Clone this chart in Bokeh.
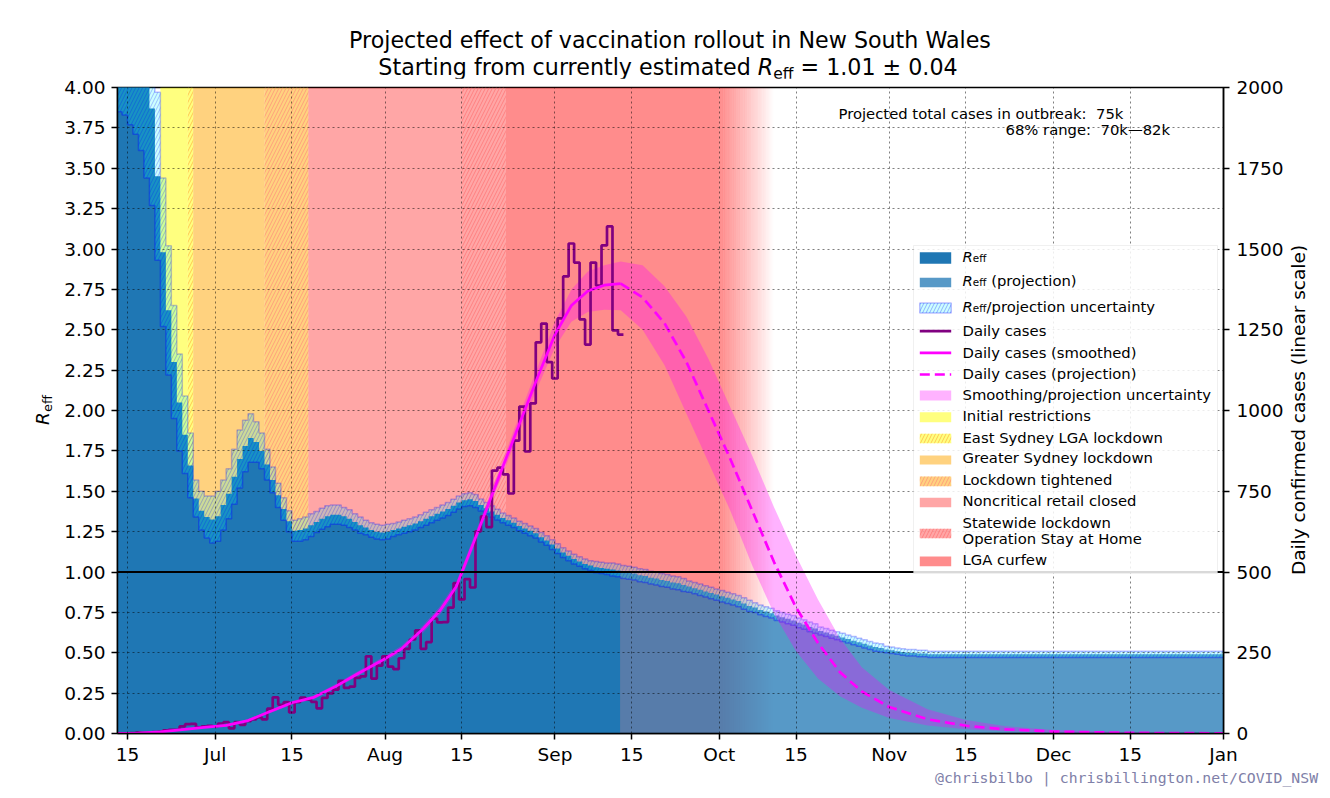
import numpy as np
import pandas as pd
from bokeh.plotting import figure
from bokeh.layouts import column, row
from bokeh.models import (Range1d, LinearAxis, FixedTicker, Label, BoxAnnotation, Span,
                          NumeralTickFormatter, Div)
from bokeh.core.properties import value
from bokeh.embed import file_html
from bokeh.resources import INLINE

ORIGIN = pd.Timestamp("2021-07-01")


def day(d):
    return float((pd.Timestamp(d) - ORIGIN).days)


# ------------------------------------------------------------------ data
x_tick_dates = ["2021-06-15", "2021-07-01", "2021-07-15", "2021-08-01", "2021-08-15",
                "2021-09-01", "2021-09-15", "2021-10-01", "2021-10-15", "2021-11-01",
                "2021-11-15", "2021-12-01", "2021-12-15", "2022-01-01"]
x_tick_labels = ["15", "Jul", "15", "Aug", "15", "Sep", "15", "Oct", "15", "Nov",
                 "15", "Dec", "15", "Jan"]
reff_ticks = [0.0, 0.25, 0.5, 0.75, 1.0, 1.25, 1.5, 1.75, 2.0, 2.25, 2.5, 2.75,
              3.0, 3.25, 3.5, 3.75, 4.0]
cases_ticks = [0, 250, 500, 750, 1000, 1250, 1500, 1750, 2000]

# Reff estimate, one value per day starting 2021-06-13
reff_start = "2021-06-13"
reff = [4.35, 4.32, 4.28, 4.22, 4.15, 4.02, 3.87, 3.45, 2.98, 2.62, 2.30, 2.05, 1.85, 1.66,
        1.455, 1.38, 1.34, 1.325,
        1.345, 1.415, 1.485, 1.59, 1.70, 1.78, 1.83, 1.805, 1.75, 1.665,
        1.57, 1.475, 1.39, 1.315, 1.255, 1.26, 1.27, 1.29, 1.31, 1.33,
        1.345, 1.355, 1.355, 1.345, 1.33, 1.31, 1.29, 1.275, 1.26, 1.25, 1.245,
        1.25, 1.26, 1.27, 1.28, 1.29, 1.30, 1.315, 1.33, 1.345, 1.36,
        1.375, 1.39, 1.41, 1.43, 1.445, 1.45, 1.44, 1.415, 1.395, 1.375,
        1.355, 1.335, 1.32, 1.305, 1.285, 1.27, 1.255, 1.24, 1.215, 1.195, 1.17,
        1.145, 1.12, 1.10, 1.08, 1.065, 1.05, 1.04, 1.03, 1.025, 1.02, 1.015, 1.01]
reff_unc = [0.50, 0.49, 0.51, 0.51, 0.54, 0.58, 0.60, 0.52, 0.46, 0.40, 0.35, 0.30, 0.24, 0.20,
            0.115, 0.12, 0.13, 0.145,
            0.155, 0.155, 0.155, 0.17, 0.18, 0.16, 0.15, 0.125, 0.11, 0.095,
            0.08, 0.075, 0.07, 0.065, 0.065, 0.07, 0.07, 0.07, 0.065, 0.065,
            0.065, 0.06, 0.06, 0.055, 0.055, 0.05, 0.05, 0.045, 0.045, 0.045, 0.045,
            0.045, 0.04, 0.04, 0.04, 0.04, 0.04, 0.04, 0.04, 0.04, 0.04,
            0.04, 0.04, 0.04, 0.04, 0.04, 0.04, 0.04, 0.037, 0.035, 0.035,
            0.033, 0.03, 0.03, 0.03, 0.03, 0.03, 0.03, 0.03, 0.03, 0.03, 0.03,
            0.03, 0.03, 0.03, 0.03, 0.03, 0.03, 0.03, 0.035, 0.035, 0.035, 0.04, 0.04]

# Reff projection, one value per day starting 2021-09-13
proj_start = "2021-09-13"
reff_proj = [1.00, 0.995, 0.99, 0.98, 0.975, 0.965,
             0.96, 0.95, 0.945, 0.935, 0.93, 0.92,
             0.91, 0.90, 0.89, 0.88, 0.87, 0.86,
             0.85, 0.84, 0.83, 0.82, 0.805, 0.79,
             0.78, 0.765, 0.755, 0.745, 0.73, 0.72,
             0.71, 0.70, 0.685, 0.675, 0.66, 0.65,
             0.635, 0.625, 0.615, 0.605, 0.595, 0.585,
             0.575, 0.565, 0.555, 0.545, 0.535, 0.53,
             0.52, 0.515, 0.51, 0.505, 0.50, 0.50,
             0.495, 0.495, 0.49, 0.49, 0.49, 0.49,
             0.49, 0.49, 0.49, 0.49, 0.49, 0.49, 0.49, 0.49, 0.49, 0.49,
             0.49, 0.49, 0.49, 0.49, 0.49, 0.49, 0.49, 0.49, 0.49, 0.49,
             0.49, 0.49, 0.49, 0.49, 0.49, 0.49, 0.49, 0.49, 0.49, 0.49,
             0.49, 0.49, 0.49, 0.49, 0.49, 0.49, 0.49, 0.49, 0.49, 0.49,
             0.49, 0.49, 0.49, 0.49, 0.49, 0.49, 0.49, 0.49, 0.49, 0.49]
reff_proj_unc = [0.04, 0.04, 0.04, 0.04, 0.04, 0.04,
                 0.04, 0.04, 0.04, 0.04, 0.04, 0.04,
                 0.035, 0.035, 0.035, 0.035, 0.035, 0.035,
                 0.035, 0.035, 0.035, 0.035, 0.035, 0.035,
                 0.03, 0.03, 0.03, 0.03, 0.03, 0.03,
                 0.03, 0.03, 0.03, 0.03, 0.03, 0.03,
                 0.025, 0.025, 0.025, 0.025, 0.025, 0.025,
                 0.025, 0.025, 0.025, 0.025, 0.025, 0.025,
                 0.02, 0.02, 0.02, 0.02, 0.02, 0.02,
                 0.02, 0.02, 0.02, 0.02, 0.02, 0.02,
                 0.02, 0.02, 0.02, 0.02, 0.02, 0.02, 0.02, 0.02, 0.02, 0.02,
                 0.02, 0.02, 0.02, 0.02, 0.02, 0.02, 0.02, 0.02, 0.02, 0.02,
                 0.02, 0.02, 0.02, 0.02, 0.02, 0.02, 0.02, 0.02, 0.02, 0.02,
                 0.02, 0.02, 0.02, 0.02, 0.02, 0.02, 0.02, 0.02, 0.02, 0.02,
                 0.02, 0.02, 0.02, 0.02, 0.02, 0.02, 0.02, 0.02, 0.02, 0.02]

# daily confirmed cases, one value per day starting 2021-06-13
cases_start = "2021-06-13"
cases = [0, 0, 0, 1, 3, 2, 3, 4, 5, 10, 11, 11, 22, 29, 30, 19, 22, 24,
         22, 31, 35, 16, 35, 27, 38, 44, 50, 44, 77, 112, 89, 97, 65, 97, 111, 105,
         98, 78, 110, 124, 136, 163, 141, 145, 172, 177, 239, 170, 210,
         239, 207, 199, 233, 262, 291, 319, 262, 283, 356, 344, 345, 390, 466, 415,
         478, 452, 626, 672, 639, 814, 823, 802, 743, 907, 1012, 873, 1022, 1211, 1269, 1150,
         1099, 1285, 1415, 1517, 1458, 1282, 1204, 1458, 1387, 1511, 1570, 1248, 1235]

# smoothed daily cases
smooth_dates = ["2021-06-13", "2021-06-17", "2021-06-21", "2021-06-25", "2021-06-29",
                "2021-07-03", "2021-07-07", "2021-07-11", "2021-07-15", "2021-07-19",
                "2021-07-23", "2021-07-27", "2021-07-31", "2021-08-04", "2021-08-08",
                "2021-08-11", "2021-08-14", "2021-08-17", "2021-08-20", "2021-08-23",
                "2021-08-26", "2021-08-29", "2021-09-01", "2021-09-04", "2021-09-07",
                "2021-09-10", "2021-09-13"]
smooth = [0.5, 1.5, 5, 12, 19, 25, 40, 68, 95, 112, 146, 185, 222, 262, 325,
          380, 455, 584, 716, 848, 980, 1110, 1235, 1325, 1370, 1388, 1393]
smooth_lo = [0.3, 1, 4, 10, 17, 22, 36, 63, 89, 106, 139, 177, 213, 252, 313,
             367, 440, 567, 697, 826, 953, 1078, 1195, 1275, 1305, 1312, 1310]
smooth_hi = [0.8, 2.2, 6, 14, 21, 28, 44, 73, 101, 118, 153, 193, 231, 272, 337,
             393, 470, 601, 735, 870, 1007, 1142, 1275, 1375, 1430, 1450, 1461]

# projected daily cases
proj_dates = ["2021-09-13", "2021-09-17", "2021-09-21", "2021-09-25", "2021-09-29",
              "2021-10-03", "2021-10-07", "2021-10-11", "2021-10-15", "2021-10-19",
              "2021-10-23", "2021-10-27", "2021-11-01", "2021-11-08", "2021-11-15",
              "2021-11-22", "2021-12-01", "2021-12-15", "2022-01-01"]
proj = [1393, 1350, 1270, 1150, 1000, 850, 690, 530, 390, 280, 190, 130, 82, 44, 24, 13, 6, 2, 0.5]
proj_lo = [1310, 1250, 1140, 990, 840, 690, 520, 370, 255, 170, 115, 80, 48, 25, 13, 7, 3, 1, 0.2]
proj_hi = [1461, 1450, 1385, 1290, 1160, 1010, 860, 700, 550, 415, 295, 205, 135, 75, 42, 23, 11, 4, 1]

# restriction periods
region_labels = ["Initial restrictions", "East Sydney LGA lockdown", "Greater Sydney lockdown",
                 "Lockdown tightened", "Noncritical retail closed",
                 "Statewide lockdown\nOperation Stay at Home", "LGA curfew"]
region_starts = ["2021-06-21", "2021-06-26", "2021-06-27", "2021-07-10", "2021-07-18",
                 "2021-08-15", "2021-08-23"]
region_ends = ["2021-06-26", "2021-06-27", "2021-07-10", "2021-07-18", "2021-08-15",
               "2021-08-23", "2021-10-01"]
curfew_fade_days = 10

title_line1 = "Projected effect of vaccination rollout in New South Wales"
title_line2 = "Starting from currently estimated"
reff_now = "= 1.01 \u00b1 0.04"
total_line1 = "Projected total cases in outbreak: \u00a075k"
total_line2 = "68% range: \u00a070k\u201482k"
right_label = "Daily confirmed cases (linear scale)"
credit = "@chrisbilbo | chrisbillington.net/COVID_NSW"

# ------------------------------------------------------------------ styles
region_fill = ["yellow", "yellow", "orange", "orange", "red", "red", "red"]
region_alpha = [0.5, 0.5, 0.5, 0.5, 0.35, 0.35, 0.45]
region_hatch = [None, "#ffb040", None, "#ff8c78", None, "#ff7070", None]

C0 = "#1f77b4"
FONT = "DejaVu Sans"
HATCH_SCALE = 7
TEXT_SHIFT = 6.8   # Bokeh places the alphabetic baseline lower; compensate (px)

# frame geometry in page pixels
FL, FR, FT, FB = 117, 1223, 87, 733
XS = day("2021-06-15") - 10 / 5.48
XE = day("2022-01-01")
SX = (FR - FL) / (XE - XS)
SY = (FB - FT) / 4.0


def X(px):
    return XS + (px - FL) / SX


def Y(py):
    return (FB - py) / SY


def steps(start, vals):
    v = np.asarray(vals, dtype=float)
    i = np.arange(len(v))
    xs = np.empty(2 * len(v))
    xs[0::2] = start + i
    xs[1::2] = start + i + 1
    return xs, np.repeat(v, 2)


# ------------------------------------------------------------------ figure
TITLE_H, LEFT_W, RIGHT_W, CREDIT_H = 78, 57, 41, 25
p = figure(frame_width=FR - FL, frame_height=FB - FT,
           min_border_left=FL - LEFT_W, min_border_right=62,
           min_border_top=FT - TITLE_H, min_border_bottom=36,
           x_range=Range1d(XS, XE), y_range=Range1d(0, 4),
           output_backend="svg", toolbar_location=None,
           background_fill_color="white", border_fill_color="white")
p.extra_y_ranges = {"cases": Range1d(0, 2000)}
p.outline_line_color = "black"
p.outline_line_width = 1.5

# background restriction spans
for k in range(len(region_labels)):
    kw = dict(fill_color=region_fill[k], fill_alpha=region_alpha[k], line_color=None)
    if region_hatch[k]:
        kw.update(hatch_pattern="/", hatch_color=region_hatch[k], hatch_alpha=0.7,
                  hatch_scale=HATCH_SCALE, hatch_weight=1)
    p.quad(left=day(region_starts[k]), right=day(region_ends[k]), bottom=0, top=4, **kw)

# fade out of the last restriction span
N_FADE = 40
f0 = day(region_ends[-1])
fw = curfew_fade_days / N_FADE
for k in range(N_FADE):
    p.quad(left=f0 + k * fw, right=f0 + (k + 1) * fw + 0.02, bottom=0, top=4,
           fill_color=region_fill[-1], fill_alpha=region_alpha[-1] * (1 - (k + 0.5) / N_FADE),
           line_color=None)

# Reff fills
xa, ra = steps(day(reff_start), reff)
_, ua = steps(day(reff_start), reff_unc)
xp, rp = steps(day(proj_start), reff_proj)
_, up = steps(day(proj_start), reff_proj_unc)
p.varea(x=xa, y1=0, y2=ra, fill_color=C0)
p.varea(x=xp, y1=0, y2=rp, fill_color=C0, fill_alpha=0.75)

xb = np.concatenate([xa, xp])
rb = np.concatenate([ra, rp])
ub = np.concatenate([ua, up])
p.varea(x=xb, y1=rb - ub, y2=rb + ub, fill_color="cyan", fill_alpha=0.2,
        hatch_pattern="/", hatch_color="blue", hatch_alpha=0.25,
        hatch_scale=HATCH_SCALE, hatch_weight=1)
p.line(xb, rb - ub, line_color="blue", line_alpha=0.35, line_width=1.5)
p.line(xb, rb + ub, line_color="blue", line_alpha=0.25, line_width=1.5)

# cases
sx = [day(d) for d in smooth_dates]
px_ = [day(d) for d in proj_dates]
band_x = sx + px_[1:]
band_lo = smooth_lo + proj_lo[1:]
band_hi = smooth_hi + proj_hi[1:]
p.varea(x=band_x, y1=band_lo, y2=band_hi, fill_color="magenta", fill_alpha=0.3,
        y_range_name="cases")
xc, cc = steps(day(cases_start) - 0.5, cases)
p.line(xc, cc, line_color="purple", line_width=2.7, y_range_name="cases")
p.line(sx, smooth, line_color="magenta", line_width=2.7, y_range_name="cases")
p.line(px_, proj, line_color="magenta", line_width=2.7, line_dash="10 5",
       y_range_name="cases")

# Reff = 1 reference line
p.add_layout(Span(location=1.0, dimension="width", line_color="black", line_width=2))

# ------------------------------------------------------------------ axes & grid
x_ticks = [day(d) for d in x_tick_dates]
p.xaxis.ticker = FixedTicker(ticks=x_ticks)
p.xaxis.major_label_overrides = {t: l for t, l in zip(x_ticks, x_tick_labels)}
p.yaxis.ticker = FixedTicker(ticks=reff_ticks)
p.yaxis.formatter = NumeralTickFormatter(format="0.00")
right = LinearAxis(y_range_name="cases", ticker=FixedTicker(ticks=cases_ticks))
p.add_layout(right, "right")

for ax in [p.xaxis[0], p.yaxis[0], right]:
    ax.axis_line_width = 1.5
    ax.major_tick_line_width = 1.5
    ax.major_tick_out = 6
    ax.major_tick_in = 0
    ax.minor_tick_line_color = None
    ax.major_label_text_font = FONT
    ax.major_label_text_font_size = "18.5px"
    ax.major_label_text_color = "black"
p.xaxis.major_label_standoff = 4
p.yaxis.major_label_standoff = 6
right.major_label_standoff = 7

p.xgrid.ticker = FixedTicker(ticks=x_ticks)
p.ygrid.ticker = FixedTicker(ticks=reff_ticks)
for g in [p.xgrid[0], p.ygrid[0]]:
    g.grid_line_color = "black"
    g.grid_line_alpha = 0.5
    g.grid_line_dash = "2 3"
    g.grid_line_width = 1
    g.level = "guide"

# ------------------------------------------------------------------ in-frame texts
for xpx, ypx, txt in [(838, 119.3, total_line1), (1005, 136, total_line2)]:
    p.add_layout(Label(x=X(xpx), y=Y(ypx - TEXT_SHIFT), text=txt, text_font=FONT,
                       text_font_size="14.8px", text_baseline="alphabetic",
                       text_color="black"))

# ------------------------------------------------------------------ legend
p.add_layout(BoxAnnotation(left=X(913), right=X(1217), top=Y(245), bottom=Y(573),
                           fill_color="white", fill_alpha=0.85,
                           line_color="#cccccc", line_width=1))

HX0, HX1, TX = 919.3, 950.7, 962.0


def handle_patch(ytop, ybot, **kw):
    p.quad(left=X(HX0), right=X(HX1), top=Y(ytop), bottom=Y(ybot), level="overlay", **kw)


def handle_line(yc, **kw):
    p.line([X(HX0), X(HX1)], [Y(yc), Y(yc)], level="overlay", **kw)


def ltext(xpx, ybase, s, size="14.8px", style="normal"):
    p.text(x=[X(xpx)], y=[Y(ybase - TEXT_SHIFT)], text=[s], text_font=value(FONT),
           text_font_size=value(size), text_font_style=value(style),
           text_baseline=value("alphabetic"), text_align=value("left"),
           text_color="black", level="overlay")


def reff_text(ybase, rest, rest_x):
    ltext(TX, ybase, "R", style="italic")
    ltext(TX + 10.3, ybase + 1.6, "eff", size="10.4px")
    if rest:
        ltext(rest_x, ybase, rest)


handle_patch(251.7, 263.3, fill_color=C0, line_color=None)
reff_text(262.7, "", 0)
handle_patch(277.3, 286.7, fill_color=C0, fill_alpha=0.75, line_color=None)
reff_text(286.7, "(projection)", 990.7)
handle_patch(302.5, 312.5, fill_color="cyan", fill_alpha=0.2, hatch_pattern="/",
             hatch_color="blue", hatch_alpha=0.3, hatch_scale=HATCH_SCALE,
             line_color="blue", line_alpha=0.25, line_width=1.5)
reff_text(312.7, "/projection uncertainty", 986.0)

handle_line(330.7, line_color="purple", line_width=2.7)
ltext(TX, 336.7, "Daily cases")
handle_line(352.3, line_color="magenta", line_width=2.7)
ltext(TX, 358.3, "Daily cases (smoothed)")
handle_line(374.0, line_color="magenta", line_width=2.7, line_dash="10 5")
ltext(TX, 379.3, "Daily cases (projection)")
handle_patch(390.0, 400.0, fill_color="magenta", fill_alpha=0.3, line_color=None)
ltext(TX, 400.7, "Smoothing/projection uncertainty")

region_handle_y = [(411.7, 421.7), (433.3, 442.7), (455.0, 464.0), (476.0, 485.7),
                   (497.3, 506.7), (528.3, 537.7), (556.0, 565.7)]
region_text_y = [421.7, 443.3, 464.0, 485.7, 506.7, 528.7, 565.7]
for k in range(len(region_labels)):
    kw = dict(fill_color=region_fill[k], fill_alpha=region_alpha[k], line_color=None)
    if region_hatch[k]:
        kw.update(hatch_pattern="/", hatch_color=region_hatch[k], hatch_alpha=0.7,
                  hatch_scale=HATCH_SCALE, hatch_weight=1)
    handle_patch(region_handle_y[k][0], region_handle_y[k][1], **kw)
    for j, line in enumerate(region_labels[k].split("\n")):
        ltext(TX, region_text_y[k] + 16.3 * j, line)

# ------------------------------------------------------------------ outer texts (HTML)
FIG_W = (FL - LEFT_W) + (FR - FL) + 62
FIG_H = (FT - TITLE_H) + (FB - FT) + 36
TOTAL_W = LEFT_W + FIG_W + RIGHT_W
BASE_CSS = "font-family:'DejaVu Sans';color:black;white-space:nowrap;position:absolute;"


def abs_line(left, top, html, size, extra=""):
    return (f'<span style="{BASE_CSS}left:{left}px;top:{top}px;font-size:{size}px;'
            f'line-height:26px;{extra}">{html}</span>')


sub22 = '<sub style="font-size:15.5px;vertical-align:-3.5px;line-height:0">eff</sub>'
title_html = (
    f'<div style="position:relative;width:{TOTAL_W}px;height:{TITLE_H}px;">'
    + abs_line(670, 26.8, title_line1, 22.2, "transform:translateX(-50%);")
    + abs_line(668, 53.8, f"{title_line2} <i>R</i>{sub22} {reff_now}", 22.2,
               "transform:translateX(-50%);")
    + "</div>")
title_div = Div(text=title_html, width=TOTAL_W, height=TITLE_H, margin=0)

rot = "transform:translate(-50%,-50%) rotate(-90deg);"
sub18 = '<sub style="font-size:13px;vertical-align:-3px;line-height:0">eff</sub>'
left_html = (
    f'<div style="position:relative;width:{LEFT_W}px;height:{FIG_H}px;">'
    f'<span style="{BASE_CSS}left:42.5px;top:{410 - TITLE_H}px;font-size:18.5px;'
    f'line-height:22px;{rot}"><i>R</i>{sub18}</span></div>')
left_div = Div(text=left_html, width=LEFT_W, height=FIG_H, margin=0)

right_html = (
    f'<div style="position:relative;width:{RIGHT_W}px;height:{FIG_H}px;">'
    f'<span style="{BASE_CSS}left:{1298 - LEFT_W - FIG_W}px;top:{410 - TITLE_H}px;'
    f'font-size:18.5px;line-height:22px;{rot}">{right_label}</span></div>')
right_div = Div(text=right_html, width=RIGHT_W, height=FIG_H, margin=0)

credit_html = (
    f'<div style="position:relative;width:{TOTAL_W}px;height:{CREDIT_H}px;">'
    f'<span style="position:absolute;white-space:nowrap;left:935px;top:0.4px;'
    f"font-family:'DejaVu Sans Mono';font-size:14.8px;line-height:17px;"
    f'color:#8080a8;">{credit}</span></div>')
credit_div = Div(text=credit_html, width=TOTAL_W, height=CREDIT_H, margin=0)

layout = column(title_div, row(left_div, p, right_div, spacing=0), credit_div, spacing=0)

open("out.html", "w").write(file_html(layout, INLINE))
